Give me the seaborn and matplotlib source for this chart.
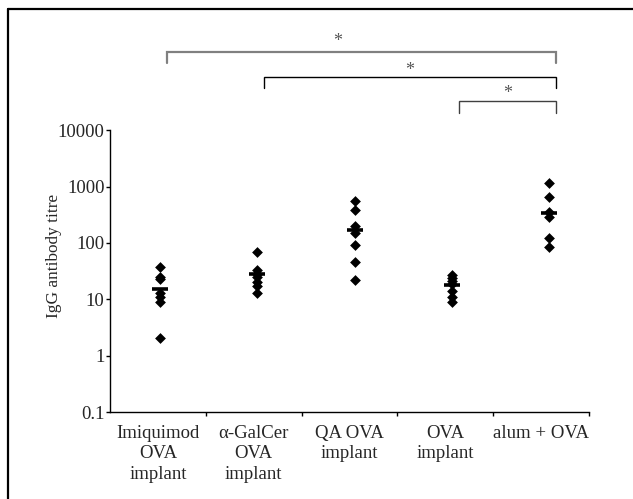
import pandas as pd
import numpy as np
import seaborn as sns
import matplotlib.pyplot as plt
from matplotlib.lines import Line2D

#%% Data
groups = ["Imiquimod\nOVA\nimplant", "\u03b1-GalCer\nOVA\nimplant", "QA OVA\nimplant", "OVA\nimplant", "alum + OVA"]
imiquimod = [38, 25, 23, 13, 11, 9, 2.1]
galcer = [70, 33, 28, 25, 20, 17, 13]
qa = [555, 384, 200, 150, 92, 46, 22]
ova = [27, 24, 21, 19, 14, 11, 9]
alum = [1150, 660, 350, 290, 125, 85]
means = [15, 28, 170, 18, 340]
comparisons = [(0, 4), (1, 4), (3, 4)]
stars = ["*", "*", "*"]
yticks = [0.1, 1, 10, 100, 1000, 10000]
ytick_labels = ["0.1", "1", "10", "100", "1000", "10000"]

values = [imiquimod, galcer, qa, ova, alum]
df = pd.concat([pd.DataFrame({"group": g, "titre": v}) for g, v in zip(groups, values)],
               ignore_index=True)

#%% Style
sns.set_style("white")
plt.rcParams['font.family'] = ['Liberation Serif', 'DejaVu Serif']
plt.rcParams['font.size'] = 13.5

fig = plt.figure(figsize=(6.33, 4.99), dpi=100)
ax = fig.add_axes([0.1738, 0.1743, 0.7567, 0.5646])

sns.stripplot(data=df, x="group", y="titre", order=groups, jitter=False,
              marker="D", color="black", size=5.5, linewidth=0, ax=ax)
ax.plot(range(len(groups)), means, ls="none", marker="_", ms=11, mew=2.6, color="black")

ax.set_yscale("log")
ax.set_ylim(0.1, 10000)
ax.set_yticks(yticks, labels=ytick_labels)
ax.yaxis.set_minor_locator(plt.NullLocator())

# x axis: labels centered in each slot, ticks at slot boundaries
left, right = -0.514, 4.411
ax.set_xlim(left, right)
w = (right - left) / len(groups)
centers = [left + w * (k + 0.5) for k in range(len(groups))]
bounds = [left + w * (k + 1) for k in range(len(groups))]
ax.set_xticks(centers, labels=groups, linespacing=1.28)
ax.set_xticks(bounds, minor=True)
ax.tick_params(axis="x", which="major", length=0, pad=9)
ax.tick_params(axis="x", which="minor", length=3, width=1, color="black", direction="out", bottom=True)
ax.tick_params(axis="y", length=3, width=1, color="black", direction="out", left=True, pad=1)
ax.set_xlabel("")
ax.set_ylabel("IgG antibody titre", fontsize=12.4)
ax.yaxis.set_label_coords(-0.100, 0.554)

for s in ["top", "right"]:
    ax.spines[s].set_visible(False)
for s in ["left", "bottom"]:
    ax.spines[s].set_color("black")
    ax.spines[s].set_linewidth(1)

#%% Significance brackets
trans = ax.get_xaxis_transform()
levels = [(1.279, 1.238), (1.190, 1.149), (1.105, 1.0625)]
star_y = [1.316, 1.213, 1.130]
star_shift = [-0.24, 0, 0]
line_cols = ["#808080", "black", "#404040"]
line_w = [1.6, 1.0, 1.0]
for (a, b), (top, bot), sy, sh, txt, c, lw in zip(comparisons, levels, star_y, star_shift, stars, line_cols, line_w):
    xa, xb = a + 0.07, b + 0.07
    ax.plot([xa, xa, xb, xb], [bot, top, top, bot], color=c, lw=lw,
            transform=trans, clip_on=False, solid_joinstyle="miter")
    ax.text((xa + xb) / 2 + sh, sy, txt, transform=trans, ha="center", va="center",
            color="#555555", fontsize=13)

# frame of the original figure (left and top edges only)
fig.add_artist(Line2D([0.012, 0.012], [0, 0.982], transform=fig.transFigure, color="black", lw=1.6))
fig.add_artist(Line2D([0.012, 1.0], [0.982, 0.982], transform=fig.transFigure, color="black", lw=1.6))

plt.savefig("out.png", dpi=100)
